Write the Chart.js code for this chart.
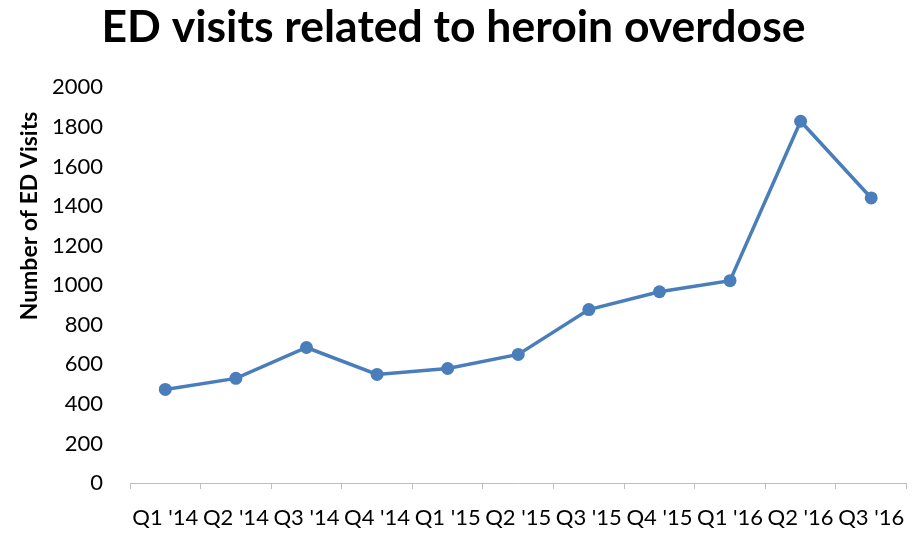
<!DOCTYPE html>
<html>
<head>
<meta charset="utf-8">
<script src="https://cdn.jsdelivr.net/npm/chart.js@4"></script>
<style>
  html, body { margin: 0; padding: 0; background: #fff; }
  #wrap { width: 913px; height: 533px; }
</style>
</head>
<body>
<div id="wrap"><canvas id="edChart" width="913" height="533"></canvas></div>
<script>
const quarters = ["Q1 '14", "Q2 '14", "Q3 '14", "Q4 '14", "Q1 '15", "Q2 '15", "Q3 '15", "Q4 '15", "Q1 '16", "Q2 '16", "Q3 '16"];
const edVisits = [473, 529, 685, 549, 579, 650, 877, 967, 1023, 1829, 1441];
const yTicks = [0, 200, 400, 600, 800, 1000, 1200, 1400, 1600, 1800, 2000];
const yTitle = 'Number of ED Visits';

const fontFamily = "Lato, 'Open Sans', sans-serif";

// y-axis title sits above the middle of the axis in the original, so draw it by hand
const yTitlePlugin = {
    id: 'yTitle',
    afterDraw: function (chart) {
        const c = chart.ctx;
        c.save();
        c.translate(30, 216);
        c.rotate(-Math.PI / 2);
        c.fillStyle = '#000';
        c.font = 'bold 23px ' + fontFamily;
        c.textAlign = 'center';
        c.textBaseline = 'middle';
        c.fillText(yTitle, 0, 0);
        c.restore();
    }
};

document.addEventListener('DOMContentLoaded', function () {
    const ctx = document.getElementById('edChart').getContext('2d');
    new Chart(ctx, {
        type: 'line',
        data: {
            labels: quarters,
            datasets: [{
                label: 'ED visits',
                data: edVisits,
                borderColor: '#4a7ebb',
                backgroundColor: '#4a7ebb',
                borderWidth: 3.5,
                pointRadius: 6.5,
                pointHoverRadius: 6.5,
                pointBackgroundColor: '#4a7ebb',
                pointBorderWidth: 0,
                tension: 0
            }]
        },
        options: {
            responsive: false,
            animation: false,
            layout: { padding: { left: 0, right: 6, top: 0, bottom: 0 } },
            plugins: {
                legend: { display: false },
                tooltip: { enabled: false },
                title: {
                    display: true,
                    text: 'ED visits related to heroin overdose',
                    color: '#000',
                    font: { family: fontFamily, size: 44.5, weight: 'bold' },
                    padding: { top: 1, bottom: 33 }
                }
            },
            scales: {
                x: {
                    offset: true,
                    grid: {
                        display: true,
                        offset: true,
                        drawOnChartArea: false,
                        drawTicks: true,
                        tickLength: 6,
                        color: '#bfbfbf'
                    },
                    border: { display: true, color: '#bfbfbf', width: 1 },
                    ticks: {
                        autoSkip: false,
                        maxRotation: 0,
                        minRotation: 0,
                        padding: 16,
                        color: '#000',
                        font: { family: fontFamily, size: 22 }
                    },
                    afterFit: function (scale) {
                        scale.height = 50;
                        scale.paddingLeft = 0;
                        scale.paddingRight = 0;
                    }
                },
                y: {
                    min: 0,
                    max: 2000,
                    afterBuildTicks: function (scale) {
                        scale.ticks = yTicks.map(function (v) { return { value: v }; });
                    },
                    grid: { display: false },
                    border: { display: false },
                    ticks: {
                        padding: 19,
                        color: '#000',
                        font: { family: fontFamily, size: 22 },
                        callback: function (v) { return String(v); }
                    },
                    afterFit: function (scale) { scale.width = 130; }
                }
            }
        },
        plugins: [yTitlePlugin]
    });
});
</script>
</body>
</html>
